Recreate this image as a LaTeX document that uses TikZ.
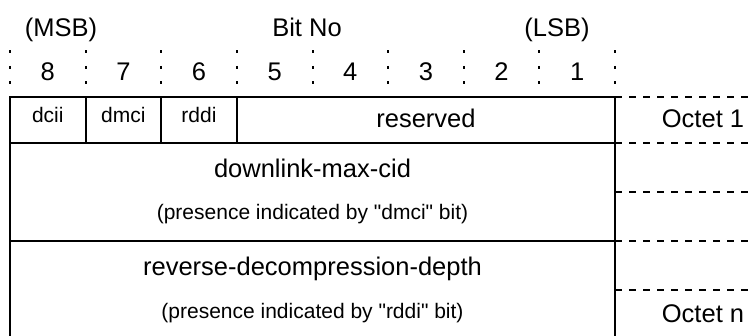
\documentclass[tikz,border=0pt]{standalone}
\usepackage{fontspec}
\setmainfont{Liberation Sans}[Ligatures=TeXOff]
\begin{document}
\begin{tikzpicture}[x=1pt,y=-1pt,
  frame/.style={line width=2pt},
  dotsep/.style={line width=2pt, dash pattern=on 3pt off 12.5pt},
  octsep/.style={line width=2pt, dash pattern=on 7pt off 7pt},
  big/.style={font=\fontsize{25.5}{30}\selectfont, anchor=base, inner sep=0pt},
  small/.style={font=\fontsize{21}{25}\selectfont, anchor=base, inner sep=0pt}]
\useasboundingbox (0,0) rectangle (754,336);
% header
\node[big] (msb) at (61,37) {(MSB)};
\node[big] (bitno) at (307,37) {Bit No};
\node[big] (lsb) at (557,37) {(LSB)};
% dotted column separators and bit numbers
\foreach \k in {0,...,8}{
  \coordinate (t\k) at ({10+75.625*\k},50.5);
  \coordinate (b\k) at ({10+75.625*\k},86);
  \draw[dotsep] (t\k) -- (b\k);
}
\foreach \k/\n in {0/8,1/7,2/6,3/5,4/4,5/3,6/2,7/1}{
  \node[big] (bit\n) at ({10+75.625*\k+37.8},81) {\n};
}
% frame
\coordinate (tl) at (10,97);
\coordinate (tr) at (615,97);
\coordinate (bl) at (10,337);
\coordinate (br) at (615,337);
\draw[frame] (bl) -- (tl) -- (tr) -- (br);
\draw[frame] (10,143) -- (615,143);
\draw[frame] (10,241) -- (615,241);
\draw[frame] (85.6,97) -- (85.6,143);
\draw[frame] (161.25,97) -- (161.25,143);
\draw[frame] (236.9,97) -- (236.9,143);
% row 1
\node[small] (dcii) at (47.8,123) {dcii};
\node[small] (dmci) at (123.4,123) {dmci};
\node[small] (rddi) at (199,123) {rddi};
\node[big] (reserved) at (426,127.5) {reserved};
% row 2
\node[big] (dmc) at (312.5,178) {downlink-max-cid};
\node[small] (dmcnote) at (312.5,220) {(presence indicated by "dmci" bit)};
% row 3
\node[big] (rdd) at (312.5,276) {reverse-decompression-depth};
\node[small] (rddnote) at (312.5,318) {(presence indicated by "rddi" bit)};
% octet separators
\foreach \y in {97,143,192,241,290}{
  \draw[octsep] (615,\y) -- (754,\y);
}
\node[big] (oct1) at (703,128) {Octet 1};
\node[big] (octn) at (703,322) {Octet n};
\end{tikzpicture}
\end{document}
